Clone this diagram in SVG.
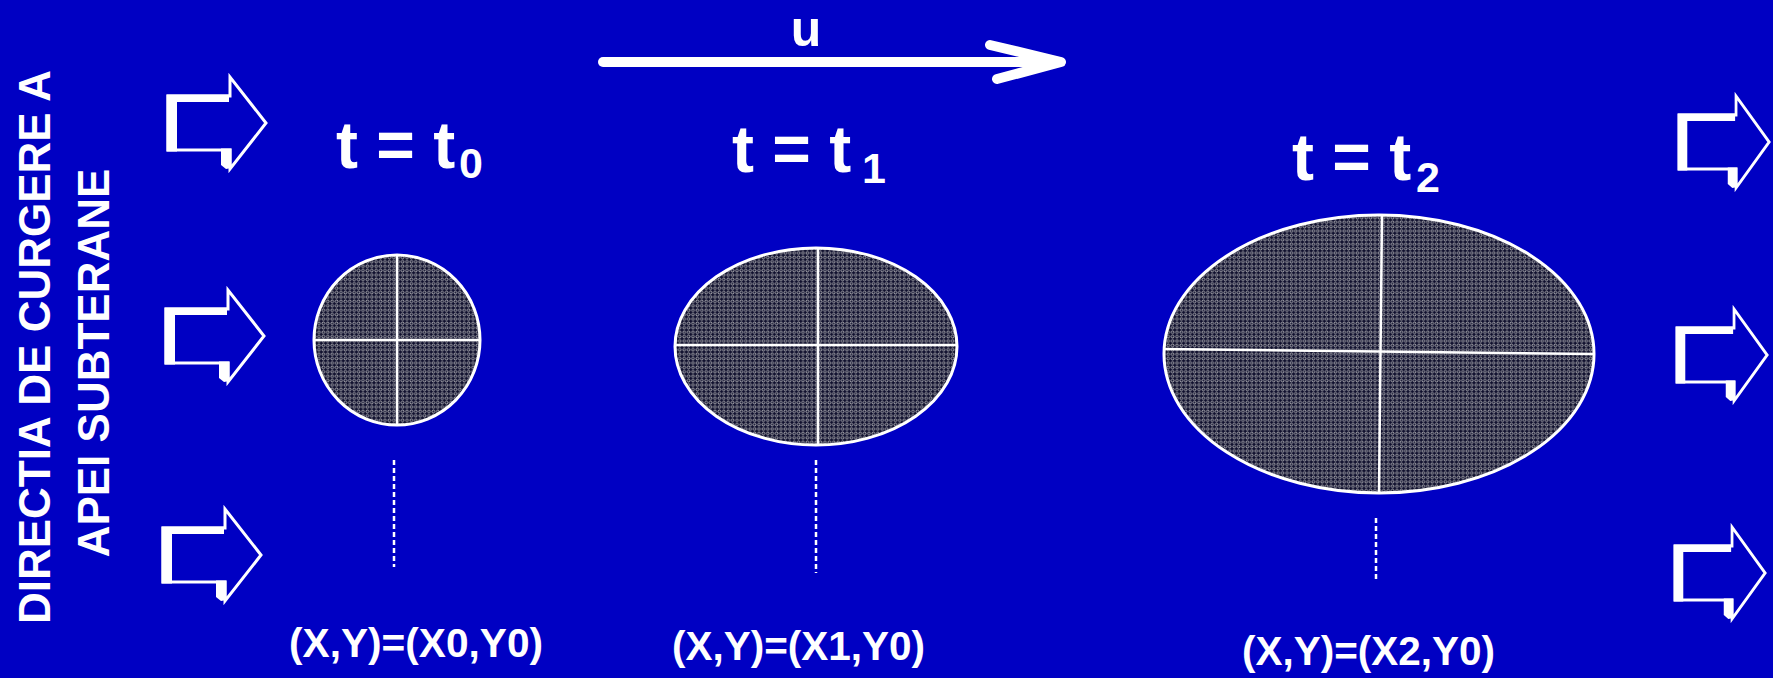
<svg xmlns="http://www.w3.org/2000/svg" xmlns:xlink="http://www.w3.org/1999/xlink" width="1773" height="678" viewBox="0 0 1773 678">
<style>
.lbl{font-family:"Liberation Sans",Arial,sans-serif;font-weight:bold;fill:#fff}
.ol{fill:none;stroke:#fff;stroke-width:3}
.blob{fill:url(#dots);stroke:#fff;stroke-width:3}
.cross{stroke:#fff;stroke-width:2.5}
.dash{stroke:#fff;stroke-width:2.5;stroke-dasharray:5 3}
</style>
<defs>
<pattern id="dots" width="4.4" height="4.4" patternUnits="userSpaceOnUse">
<rect width="4.4" height="4.4" fill="#10102e"/>
<circle cx="2.2" cy="2.2" r="1.35" fill="none" stroke="#c4c4c4" stroke-width="0.85"/>
</pattern>
<g id="blk">
<path class="ol" d="M0,-27 H62 V-46 L98,0 L62,46 V27 H0 Z"/>
<path d="M-1.5,-28.5 H61 V-21 H9 V28.5 H-1.5 Z" fill="#fff"/>
<path d="M53,25.5 H63.5 V45 L58,46 L53,42 Z" fill="#fff"/>
</g>
</defs>
<rect width="1773" height="678" fill="#0000C3"/>

<g id="title">
<text class="lbl" font-size="44" text-anchor="middle" transform="translate(50,347) rotate(-90)">DIRECTIA DE CURGERE A</text>
<text class="lbl" font-size="44" text-anchor="middle" transform="translate(109,363) rotate(-90)">APEI SUBTERANE</text>
</g>

<g id="arrows-in">
<use xlink:href="#blk" transform="translate(168,123)"/>
<use xlink:href="#blk" transform="translate(166,336)"/>
<use xlink:href="#blk" transform="translate(163,555)"/>
</g>
<g id="arrows-out">
<use xlink:href="#blk" transform="translate(1679,142) scale(0.92,1)"/>
<use xlink:href="#blk" transform="translate(1677,355) scale(0.92,1)"/>
<use xlink:href="#blk" transform="translate(1675,573) scale(0.92,1)"/>
</g>

<g id="velocity">
<line x1="603" y1="62" x2="1055" y2="62" stroke="#fff" stroke-width="10" stroke-linecap="round"/>
<polyline points="990,45 1061,62 997,79" fill="none" stroke="#fff" stroke-width="10" stroke-linecap="round" stroke-linejoin="round"/>
<text class="lbl" x="806" y="46" font-size="50" text-anchor="middle">u</text>
</g>

<g id="state-t0">
<text class="lbl" x="336" y="168" font-size="66">t = t</text>
<text class="lbl" x="459" y="178" font-size="43">0</text>
<ellipse class="blob" cx="397" cy="340" rx="83" ry="85"/>
<line class="cross" x1="397" y1="255" x2="397" y2="425"/>
<line class="cross" x1="314" y1="340" x2="480" y2="340"/>
<text class="lbl" x="289" y="657" font-size="40" textLength="254" lengthAdjust="spacingAndGlyphs">(X,Y)=(X0,Y0)</text>
</g>

<g id="state-t1">
<text class="lbl" x="732" y="172" font-size="66">t = t</text>
<text class="lbl" x="862" y="183" font-size="43">1</text>
<ellipse class="blob" cx="816" cy="346.5" rx="141" ry="98.5"/>
<line class="cross" x1="818" y1="248" x2="818" y2="445"/>
<line class="cross" x1="675" y1="345" x2="957" y2="345"/>
<text class="lbl" x="672" y="660" font-size="40" textLength="253" lengthAdjust="spacingAndGlyphs">(X,Y)=(X1,Y0)</text>
</g>

<g id="state-t2">
<text class="lbl" x="1292" y="180" font-size="66">t = t</text>
<text class="lbl" x="1416" y="192" font-size="43">2</text>
<ellipse class="blob" cx="1379" cy="354" rx="215" ry="139"/>
<line class="cross" x1="1382" y1="215" x2="1379" y2="493"/>
<line class="cross" x1="1164" y1="349" x2="1594" y2="354"/>
<text class="lbl" x="1242" y="665" font-size="40" textLength="253" lengthAdjust="spacingAndGlyphs">(X,Y)=(X2,Y0)</text>
</g>

<g id="connectors">
<line class="dash" x1="394" y1="460" x2="394" y2="567"/>
<line class="dash" x1="816" y1="460" x2="816" y2="573"/>
<line class="dash" x1="1376" y1="518" x2="1376" y2="580"/>
</g>
</svg>
